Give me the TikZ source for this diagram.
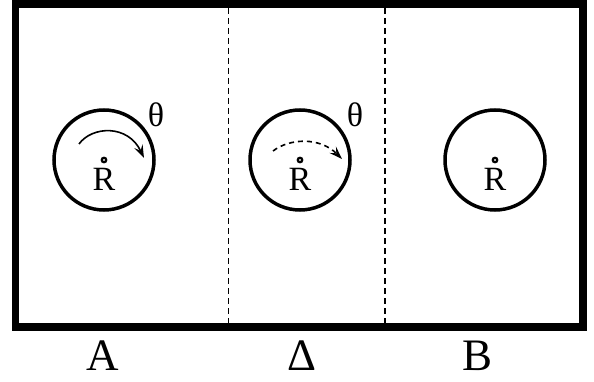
\documentclass[tikz,border=0pt]{standalone}
\usepackage{fontspec}
\setmainfont{Liberation Serif}
\usetikzlibrary{arrows.meta}
\tikzset{
  frame/.style={line width=7.5pt, draw=black},
  divider/.style={line width=1pt, dash pattern=on 6pt off 4pt},
  wheel/.style={circle, draw=black, line width=3.5pt, minimum size=100pt, inner sep=0pt},
  pivot/.style={circle, draw=black, line width=2.2pt, minimum size=4.5pt, inner sep=0pt},
  pivotlabel/.style={font=\fontsize{34}{34}\selectfont, anchor=base},
  anglelabel/.style={font=\fontsize{34}{34}\selectfont, anchor=base},
  zonelabel/.style={font=\fontsize{45}{45}\selectfont, anchor=base},
  spin/.style={line width=1.6pt, -{Stealth[length=13pt,width=9pt,inset=5pt]}},
}
\begin{document}
\begin{tikzpicture}[x=1pt,y=-1pt]
\useasboundingbox (0,0) rectangle (594,382);
\draw[frame] (15.5,4) rectangle (583,327);
\draw[divider] (228,8) -- (228,323);
\draw[divider, line width=1.5pt] (385,8) -- (385,323);
% zone A
\node[wheel] (wheelA) at (104,160) {};
\node[pivot] (pivotA) at (104,160) {};
\node[pivotlabel] (labelRA) at (104,191) {R};
\node[anglelabel] (thetaA) at (156,127) {θ};
\draw[spin] (79,144) .. controls (92,126) and (128,124) .. (144,158);
% zone Delta
\node[wheel] (wheelD) at (300,160) {};
\node[pivot] (pivotD) at (300,160) {};
\node[pivotlabel] (labelRD) at (300,191) {R};
\node[anglelabel] (thetaD) at (355,127) {θ};
\draw[spin, dash pattern=on 5pt off 4pt] (273,151) .. controls (290,138) and (320,137) .. (342,159);
% zone B
\node[wheel] (wheelB) at (495,160) {};
\node[pivot] (pivotB) at (495,160) {};
\node[pivotlabel] (labelRB) at (495,191) {R};
% zone names
\node[zonelabel] (zoneA) at (103,370) {A};
\node[zonelabel] (zoneD) at (302,370) {Δ};
\node[zonelabel] (zoneB) at (478,370) {B};
\end{tikzpicture}
\end{document}
